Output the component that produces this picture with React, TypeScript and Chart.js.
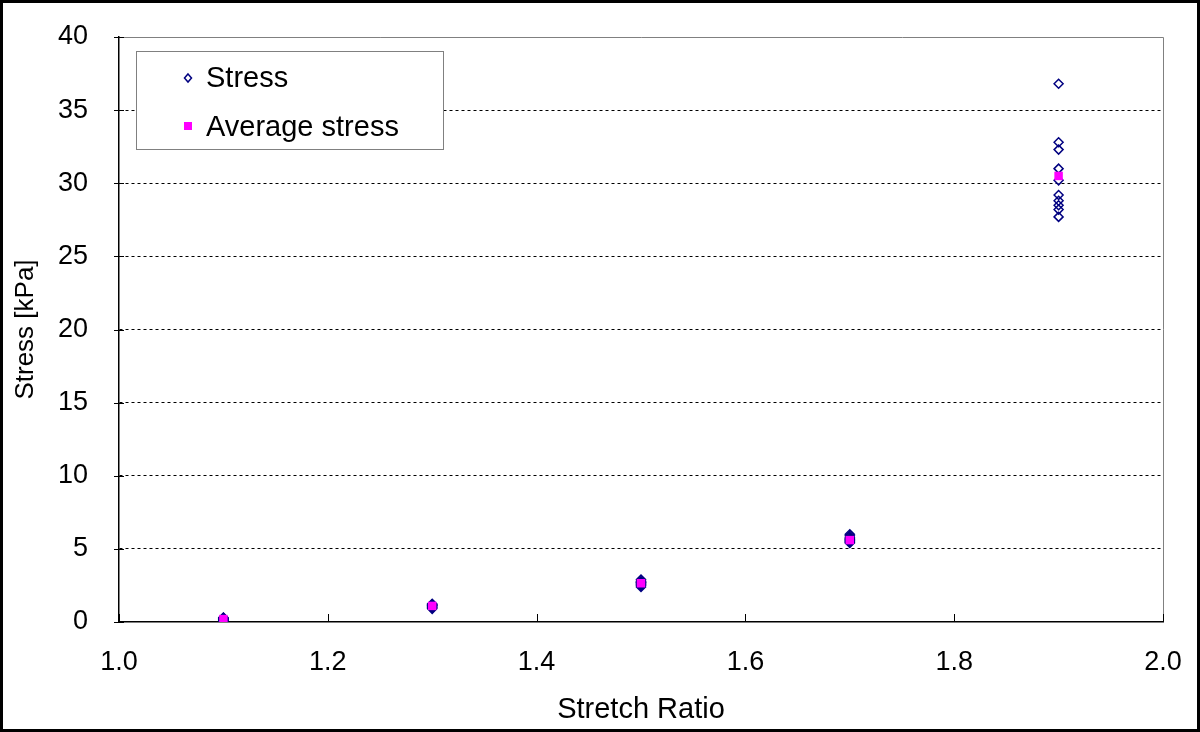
import React, { useEffect, useRef } from "react";
import { Chart, registerables } from "chart.js";

Chart.register(...registerables);

// ---- Data ----
const stretchRatios = [1.1, 1.3, 1.5, 1.7, 1.9];
const stressSamples = [
  [0.05, 0.12, 0.1, 0.18, 0.22, 0.15, 0.28, 0.2, 0.3, 0.25],
  [0.9, 0.95, 1.0, 1.05, 1.1, 1.12, 1.15, 1.2, 1.18, 1.25],
  [2.4, 2.5, 2.55, 2.6, 2.65, 2.7, 2.72, 2.75, 2.8, 2.9],
  [5.4, 5.45, 5.5, 5.55, 5.6, 5.65, 5.7, 5.8, 5.9, 6.0],
  [36.8, 32.8, 32.3, 31.0, 30.2, 29.2, 28.8, 28.5, 28.2, 27.7],
];
const averageStress = [0.2, 1.1, 2.65, 5.6, 30.5];
const xTickValues = [1.0, 1.2, 1.4, 1.6, 1.8, 2.0];
const yTickValues = [0, 5, 10, 15, 20, 25, 30, 35, 40];
const seriesLabels = ["Stress", "Average stress"];
const xTitle = "Stretch Ratio";
const yTitle = "Stress [kPa]";

const FONT = "'Liberation Sans', Arial, sans-serif";
const NAVY = "#000080";
const MAGENTA = "#FF00FF";

const framePlugin = {
  id: "frame",
  beforeDraw(chart: any) {
    const ctx = chart.ctx;
    ctx.save();
    ctx.fillStyle = "#ffffff";
    ctx.fillRect(0, 0, chart.width, chart.height);
    ctx.restore();
  },
  beforeDatasetsDraw(chart: any) {
    const ctx = chart.ctx;
    const { left, top, right, bottom } = chart.chartArea;
    ctx.save();
    ctx.strokeStyle = "#808080";
    ctx.lineWidth = 1;
    ctx.beginPath();
    ctx.moveTo(left, top + 0.5);
    ctx.lineTo(right + 0.5, top + 0.5);
    ctx.lineTo(right + 0.5, bottom);
    ctx.stroke();
    // tick marks
    ctx.strokeStyle = "#000000";
    ctx.lineWidth = 1;
    const ys = chart.scales.y;
    yTickValues.forEach((v) => {
      const y = Math.round(ys.getPixelForValue(v)) + 0.5;
      ctx.beginPath();
      ctx.moveTo(left - 5, y);
      ctx.lineTo(left + 5, y);
      ctx.stroke();
    });
    const xs = chart.scales.x;
    xTickValues.forEach((v) => {
      const x = Math.round(xs.getPixelForValue(v)) + 0.5;
      ctx.beginPath();
      ctx.moveTo(x, bottom);
      ctx.lineTo(x, bottom - 8);
      ctx.stroke();
    });
    ctx.restore();
  },
  afterDatasetsDraw(chart: any) {
    const ctx = chart.ctx;
    ctx.save();
    // legend box
    const bx = 136, by = 51, bw = 307, bh = 98;
    ctx.fillStyle = "#ffffff";
    ctx.fillRect(bx, by, bw, bh);
    ctx.strokeStyle = "#808080";
    ctx.lineWidth = 1;
    ctx.strokeRect(bx + 0.5, by + 0.5, bw, bh);
    // stress marker (diamond)
    const mx = 188;
    const y1 = 78, y2 = 126;
    ctx.strokeStyle = NAVY;
    ctx.lineWidth = 1.5;
    ctx.beginPath();
    ctx.moveTo(mx, y1 - 4);
    ctx.lineTo(mx + 3.5, y1);
    ctx.lineTo(mx, y1 + 4);
    ctx.lineTo(mx - 3.5, y1);
    ctx.closePath();
    ctx.stroke();
    // average marker (square)
    ctx.fillStyle = MAGENTA;
    ctx.fillRect(mx - 4, y2 - 4, 8, 8);
    // text
    ctx.fillStyle = "#000000";
    ctx.font = `29px ${FONT}`;
    ctx.textBaseline = "middle";
    ctx.textAlign = "left";
    ctx.fillText(seriesLabels[0], 206, y1 + 1);
    ctx.fillText(seriesLabels[1], 206, y2 + 2);
    ctx.restore();
  },
  afterDraw(chart: any) {
    const ctx = chart.ctx;
    ctx.save();
    ctx.strokeStyle = "#000000";
    ctx.lineWidth = 3;
    ctx.strokeRect(1.5, 1.5, chart.width - 3, chart.height - 3);
    ctx.restore();
  },
};

export default function App() {
  const canvasRef = useRef<HTMLCanvasElement | null>(null);

  useEffect(() => {
    document.body.style.margin = "0";
    const canvas = canvasRef.current;
    if (!canvas) return;

    const stressPoints: { x: number; y: number }[] = [];
    stretchRatios.forEach((r, i) => {
      stressSamples[i].forEach((s) => stressPoints.push({ x: r, y: s }));
    });
    const avgPoints = stretchRatios.map((r, i) => ({ x: r, y: averageStress[i] }));

    const chart = new Chart(canvas, {
      type: "scatter",
      data: {
        datasets: [
          {
            label: seriesLabels[0],
            data: stressPoints,
            pointStyle: "rectRot",
            pointRadius: 4.5,
            borderColor: NAVY,
            backgroundColor: "rgba(0,0,0,0)",
            borderWidth: 1.5,
            order: 1,
          },
          {
            label: seriesLabels[1],
            data: avgPoints,
            pointStyle: "rect",
            pointRadius: 6,
            borderColor: MAGENTA,
            backgroundColor: MAGENTA,
            borderWidth: 0,
            order: 0,
          },
        ],
      },
      options: {
        responsive: false,
        animation: false,
        devicePixelRatio: 1,
        layout: { padding: { top: 37, right: 37, left: 0, bottom: 0 } },
        plugins: {
          legend: { display: false },
          tooltip: { enabled: false },
        },
        scales: {
          x: {
            type: "linear",
            min: 1,
            max: 2,
            afterFit: (s: any) => {
              s.height = 110;
              s.paddingLeft = 0;
              s.paddingRight = 0;
            },
            afterBuildTicks: (s: any) => {
              s.ticks = xTickValues.map((v) => ({ value: v }));
            },
            ticks: {
              callback: (v: any) => Number(v).toFixed(1),
              font: { family: FONT, size: 27 },
              color: "#000000",
              padding: 24,
              maxRotation: 0,
            },
            grid: { drawOnChartArea: false, drawTicks: false },
            border: { color: "#000000", width: 1.5 },
            title: {
              display: true,
              text: xTitle,
              font: { family: FONT, size: 29 },
              color: "#000000",
              padding: { top: 0, bottom: 5 },
            },
          },
          y: {
            type: "linear",
            min: 0,
            max: 40,
            afterFit: (s: any) => {
              s.width = 119;
              s.paddingTop = 0;
              s.paddingBottom = 0;
            },
            afterBuildTicks: (s: any) => {
              s.ticks = yTickValues.map((v) => ({ value: v }));
            },
            ticks: {
              font: { family: FONT, size: 27 },
              color: "#000000",
              padding: 31,
            },
            grid: {
              drawTicks: false,
              color: (c: any) =>
                c.tick && (c.tick.value === 0 || c.tick.value === 40) ? "rgba(0,0,0,0)" : "#000000",
              lineWidth: 1,
            },
            border: { color: "#000000", width: 1.5, dash: [3, 3] },
            title: {
              display: true,
              text: yTitle,
              font: { family: FONT, size: 26 },
              color: "#000000",
              padding: { top: 10, bottom: 0 },
            },
          },
        },
      },
      plugins: [framePlugin],
    });

    return () => chart.destroy();
  }, []);

  return (
    <div style={{ position: "absolute", left: 0, top: 0, width: 1200, height: 732 }}>
      <canvas ref={canvasRef} width={1200} height={732} />
    </div>
  );
}
